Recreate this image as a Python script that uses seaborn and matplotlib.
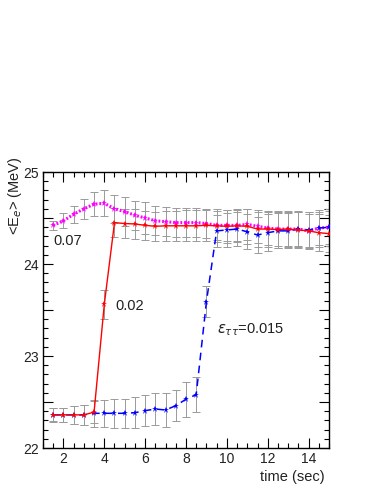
import numpy as np
import pandas as pd
import seaborn as sns
import matplotlib
matplotlib.use('Agg')
import matplotlib.pyplot as plt
from matplotlib.ticker import MultipleLocator, FuncFormatter

# data
time_sec = [1.5, 2.0, 2.5, 3.0, 3.5, 4.0, 4.5, 5.0, 5.5, 6.0, 6.5, 7.0, 7.5, 8.0,
            8.5, 9.0, 9.5, 10.0, 10.5, 11.0, 11.5, 12.0, 12.5, 13.0, 13.5, 14.0, 14.5, 15.0]

e_007 = [24.42, 24.47, 24.54, 24.60, 24.65, 24.66, 24.60, 24.57, 24.53, 24.50, 24.47, 24.46, 24.45, 24.45,
         24.45, 24.44, 24.42, 24.42, 24.42, 24.43, 24.41, 24.39, 24.38, 24.38, 24.38, 24.36, 24.39, 24.40]
err_007 = [0.05, 0.08, 0.09, 0.11, 0.13, 0.14, 0.15, 0.16, 0.16, 0.17, 0.16, 0.16, 0.16, 0.16,
           0.16, 0.16, 0.16, 0.17, 0.17, 0.17, 0.18, 0.18, 0.18, 0.18, 0.18, 0.18, 0.18, 0.18]

e_002 = [22.36, 22.36, 22.36, 22.36, 22.39, 23.56, 24.45, 24.44, 24.435, 24.42, 24.41, 24.415, 24.415, 24.415,
         24.415, 24.42, 24.415, 24.41, 24.415, 24.41, 24.38, 24.38, 24.375, 24.38, 24.37, 24.36, 24.34, 24.33]
err_002 = [0.08, 0.08, 0.10, 0.11, 0.12, 0.16, 0.16, 0.16, 0.16, 0.16, 0.16, 0.16, 0.16, 0.17,
           0.17, 0.17, 0.18, 0.18, 0.18, 0.19, 0.19, 0.20, 0.20, 0.20, 0.20, 0.20, 0.20, 0.20]

e_0015 = [22.36, 22.36, 22.36, 22.36, 22.377, 22.377, 22.377, 22.377, 22.384, 22.406, 22.424, 22.413, 22.46, 22.53,
          22.58, 23.59, 24.36, 24.37, 24.38, 24.35, 24.315, 24.34, 24.36, 24.36, 24.38, 24.37, 24.39, 24.40]
err_0015 = [0.07, 0.08, 0.10, 0.11, 0.15, 0.15, 0.16, 0.16, 0.17, 0.17, 0.17, 0.18, 0.17, 0.19,
            0.19, 0.17, 0.17, 0.18, 0.18, 0.19, 0.20, 0.20, 0.19, 0.19, 0.20, 0.20, 0.20, 0.20]

sns.set_style('ticks')
plt.rcParams['font.family'] = ['Liberation Sans', 'DejaVu Sans']
plt.rcParams['mathtext.fontset'] = 'dejavusans'

fig = plt.figure(figsize=(3.74, 4.84), dpi=100)
ax = fig.add_axes([43 / 374, 1 - 448 / 484, 286 / 374, 276 / 484])

series = [
    (e_007, err_007, '#ff00ff', (0, (0.6, 0.6)), 2.2),
    (e_0015, err_0015, '#0000ff', (0, (5, 3.5)), 1.1),
    (e_002, err_002, '#ff0000', '-', 1.0),
]

# grey error bars first
for vals, errs, col, ls, lw in series:
    ax.errorbar(time_sec, vals, yerr=errs, fmt='none', ecolor='#9a9a9a',
                elinewidth=0.7, capsize=2.8, capthick=0.7, zorder=1)

for vals, errs, col, ls, lw in series:
    df = pd.DataFrame({'t': time_sec, 'e': vals})
    sns.lineplot(data=df, x='t', y='e', ax=ax, color=col, linewidth=lw,
                 linestyle=ls, marker='*', markersize=5, markeredgewidth=0,
                 zorder=3, estimator=None, sort=False)

ax.set_xlim(1, 15)
ax.set_ylim(22, 25)
ax.set_xlabel('')
ax.set_ylabel('')

ax.xaxis.set_major_locator(MultipleLocator(2))
ax.xaxis.set_minor_locator(MultipleLocator(0.5))
ax.yaxis.set_major_locator(MultipleLocator(0.5))
ax.yaxis.set_minor_locator(MultipleLocator(0.1))
ax.yaxis.set_major_formatter(FuncFormatter(lambda v, p: '%d' % round(v) if abs(v - round(v)) < 1e-6 else ''))
ax.xaxis.set_major_formatter(FuncFormatter(lambda v, p: '%d' % round(v)))

ax.tick_params(which='both', direction='in', top=True, right=True, labelsize=10,
               color='black', width=0.8, labelcolor='#222222')
ax.tick_params(which='major', length=7, pad=3)
ax.tick_params(which='minor', length=3.5)
for sp in ax.spines.values():
    sp.set_color('black')
    sp.set_linewidth(1.0)

ax.text(1.5, 24.25, '0.07', fontsize=10.5, color='#222222', va='center')
ax.text(4.55, 23.54, '0.02', fontsize=10.5, color='#222222', va='center')
ax.text(9.5, 23.29, r'$\varepsilon_{\tau\tau}$=0.015', fontsize=10.5, color='#222222', va='center')

fig.text(325 / 374, 1 - 477 / 484, 'time (sec)', fontsize=10.5, color='#222222', ha='right', va='center')
fig.text(15 / 374, 1 - 156 / 484, r'<E$_{e}$> (MeV)', fontsize=10.5, color='#222222',
         rotation=90, ha='center', va='top')

fig.savefig('out.png', dpi=100)
